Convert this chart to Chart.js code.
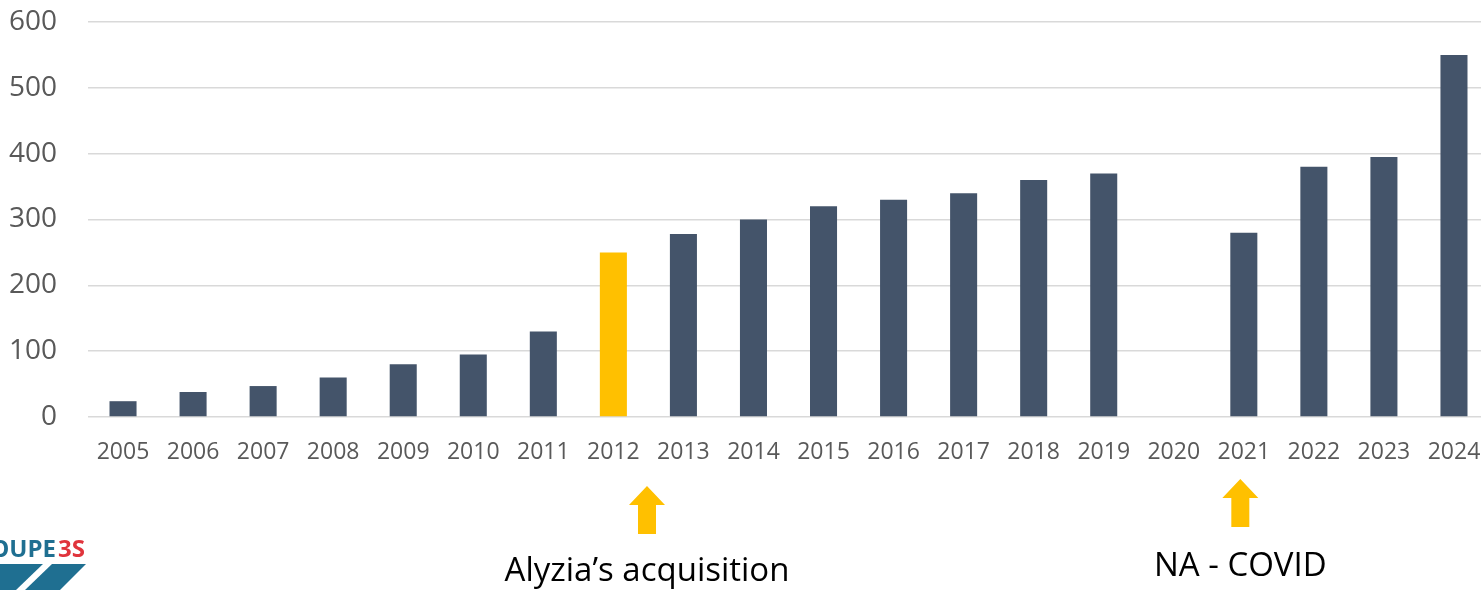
<!DOCTYPE html>
<html>
<head>
<meta charset="utf-8">
<script src="https://cdn.jsdelivr.net/npm/chart.js@4/dist/chart.umd.min.js"></script>
<style>
html,body{margin:0;padding:0;background:#fff;overflow:hidden;width:1481px;height:590px;}
#wrap{position:absolute;left:0;top:0;width:1489px;height:590px;}
</style>
</head>
<body>
<div id="wrap"><canvas id="c"></canvas></div>
<script>
const years = ['2005','2006','2007','2008','2009','2010','2011','2012','2013','2014','2015','2016','2017','2018','2019','2020','2021','2022','2023','2024'];
const values = [24, 38, 47, 60, 80, 95, 130, 250, 278, 300, 320, 330, 340, 360, 370, null, 280, 380, 395, 550];
const yTicks = [0, 100, 200, 300, 400, 500, 600];
const highlightYear = '2012';
const notes = [
  {year: '2012', shift: 0.48, text: 'Alyzia\u2019s acquisition', arrowTop: 486, textY: 572},
  {year: '2021', shift: -0.05, text: 'NA - COVID', arrowTop: 479, textY: 567}
];

const annot = {
  id: 'annot',
  afterDraw(chart) {
    const ctx = chart.ctx;
    const x = chart.scales.x;
    const cw = x.getPixelForValue(1) - x.getPixelForValue(0);
    ctx.save();
    notes.forEach(n => {
      const cx = x.getPixelForValue(years.indexOf(n.year)) + n.shift * cw;
      const t = n.arrowTop;
      ctx.fillStyle = '#FFC000';
      ctx.beginPath();
      ctx.moveTo(cx, t);
      ctx.lineTo(cx + 18, t + 19);
      ctx.lineTo(cx + 9, t + 19);
      ctx.lineTo(cx + 9, t + 48);
      ctx.lineTo(cx - 9, t + 48);
      ctx.lineTo(cx - 9, t + 19);
      ctx.lineTo(cx - 18, t + 19);
      ctx.closePath();
      ctx.fill();
      ctx.fillStyle = '#000';
      ctx.font = '33px "Open Sans"';
      ctx.textAlign = 'center';
      ctx.textBaseline = 'middle';
      ctx.fillText(n.text, cx, n.textY);
    });
    // logo (cropped at the left edge)
    ctx.textBaseline = 'alphabetic';
    ctx.font = 'bold 24px "Open Sans"';
    ctx.fillStyle = '#1F6F91';
    ctx.textAlign = 'right';
    ctx.fillText('OUPE', 56, 557);
    ctx.fillStyle = '#E0343C';
    ctx.textAlign = 'left';
    ctx.fillText('3S', 58, 557);
    ctx.fillStyle = '#1F6F91';
    ctx.beginPath();
    ctx.moveTo(0, 564); ctx.lineTo(43, 564); ctx.lineTo(16, 590); ctx.lineTo(0, 590); ctx.closePath(); ctx.fill();
    ctx.beginPath();
    ctx.moveTo(52, 564); ctx.lineTo(86, 564); ctx.lineTo(60, 590); ctx.lineTo(25, 590); ctx.closePath(); ctx.fill();
    ctx.restore();
  }
};

new Chart(document.getElementById('c'), {
  type: 'bar',
  data: {
    labels: years,
    datasets: [{
      data: values,
      backgroundColor: ctx => years[ctx.dataIndex] === highlightYear ? '#FFC000' : '#44546A',
      categoryPercentage: 1,
      barPercentage: 0.386
    }]
  },
  options: {
    responsive: true,
    maintainAspectRatio: false,
    animation: false,
    layout: {padding: 0},
    plugins: {legend: {display: false}, tooltip: {enabled: false}},
    scales: {
      x: {
        grid: {display: false, drawTicks: false},
        border: {display: false},
        ticks: {color: '#595959', font: {family: 'Open Sans', size: 23}, padding: 22, maxRotation: 0, autoSkip: false},
        afterFit(s) { s.height = 173; s.paddingLeft = 0; s.paddingRight = 0; }
      },
      y: {
        min: 0, max: 600,
        afterBuildTicks(s) { s.ticks = yTicks.map(v => ({value: v})); },
        grid: {color: '#D9D9D9', lineWidth: 1.5, drawTicks: false},
        border: {display: false},
        ticks: {color: '#595959', font: {family: 'Open Sans', size: 28}, padding: 31},
        afterFit(s) { s.width = 88; s.paddingTop = 22; s.paddingBottom = 0; }
      }
    }
  },
  plugins: [annot]
});
</script>
</body>
</html>
